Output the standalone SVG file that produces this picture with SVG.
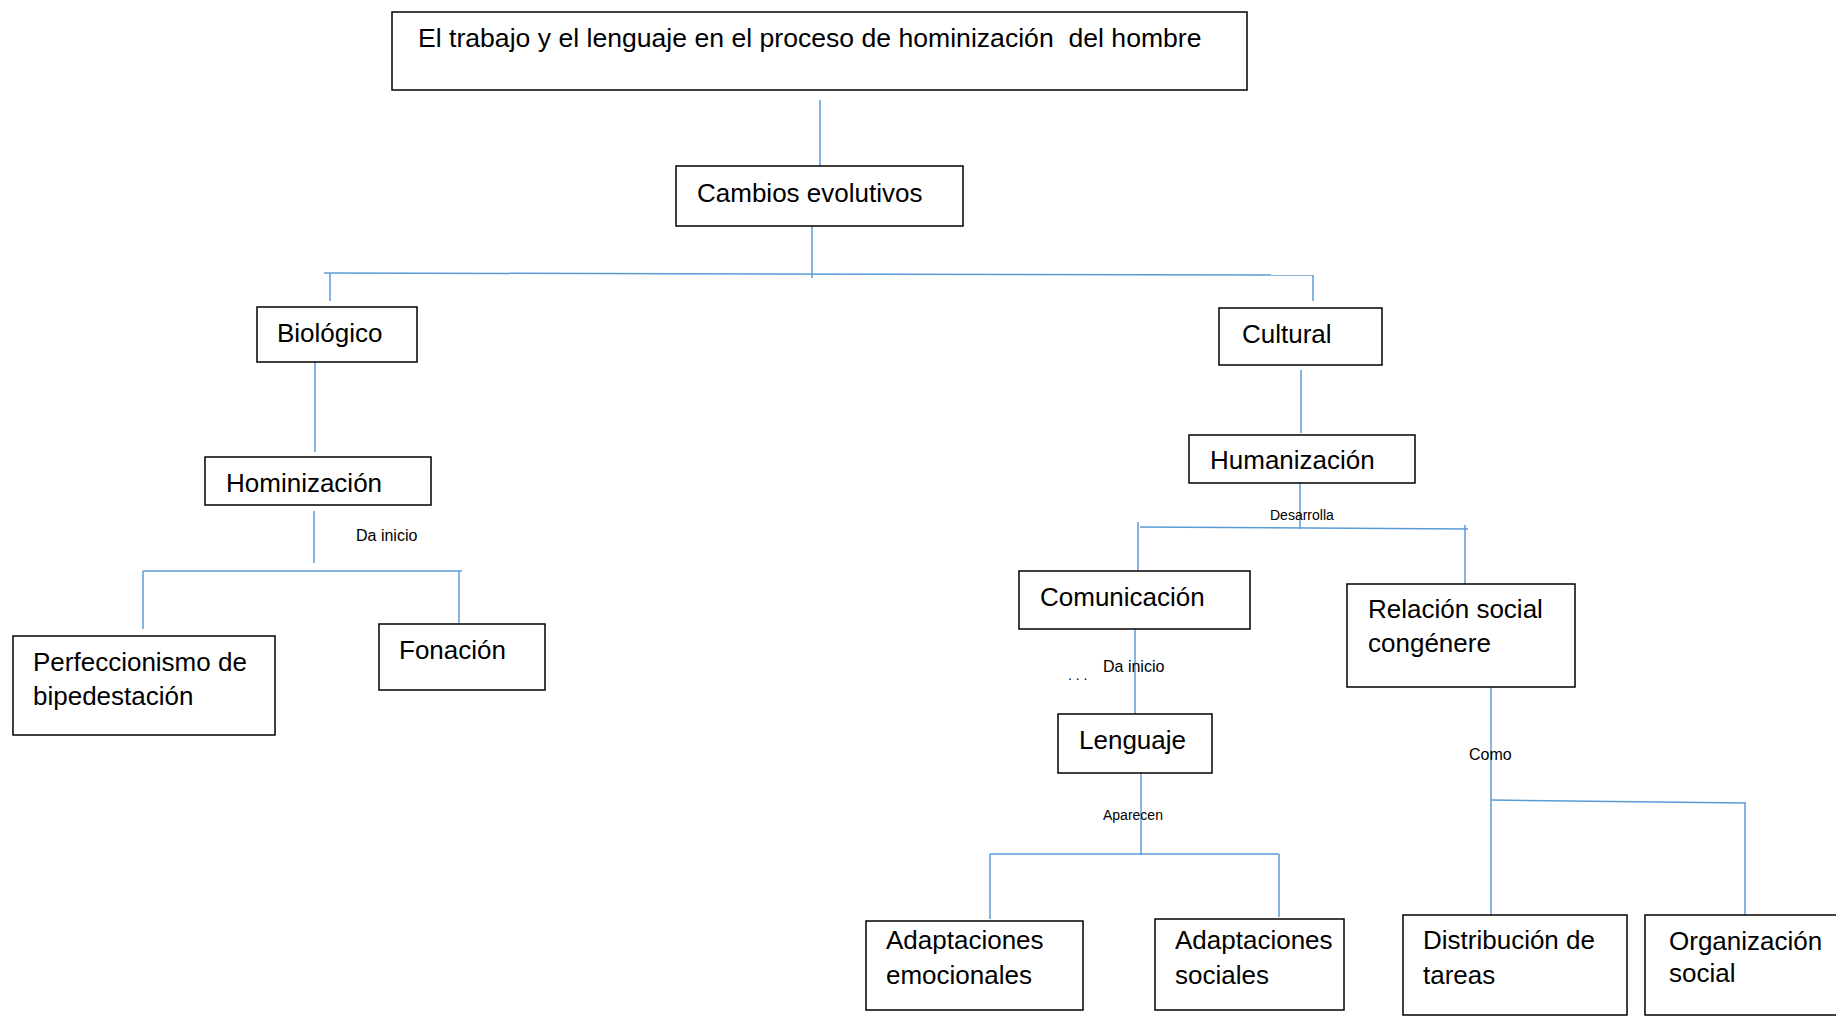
<svg xmlns="http://www.w3.org/2000/svg" width="1836" height="1016" viewBox="0 0 1836 1016">
<style>
.box{fill:#fff;stroke:#000;stroke-width:1.5}
.t{font-family:"Liberation Sans",Arial,sans-serif;font-size:26px;fill:#000}
.s{font-family:"Liberation Sans",Arial,sans-serif;font-size:16px;fill:#000}
.xs{font-family:"Liberation Sans",Arial,sans-serif;font-size:14px;fill:#000}
.c line{stroke:#5b9bd5;stroke-width:1.5;fill:none}
</style>
<rect width="1836" height="1016" fill="#fff"/>
<g class="c" id="connectors">
<line x1="820" y1="100" x2="820" y2="166"/>
<line x1="812" y1="226" x2="812" y2="278"/>
<line x1="324" y1="273" x2="1313" y2="275"/>
<line x1="330" y1="273" x2="330" y2="301"/>
<line x1="1313" y1="275" x2="1313" y2="301"/>
<line x1="315" y1="362" x2="315" y2="452"/>
<line x1="314" y1="511" x2="314" y2="563"/>
<line x1="143" y1="571" x2="462" y2="571"/>
<line x1="143" y1="571" x2="143" y2="629"/>
<line x1="459" y1="571" x2="459" y2="623"/>
<line x1="1301" y1="370" x2="1301" y2="433"/>
<line x1="1300" y1="483" x2="1300" y2="529"/>
<line x1="1140" y1="527" x2="1468" y2="529"/>
<line x1="1138" y1="522" x2="1138" y2="571"/>
<line x1="1465" y1="525" x2="1465" y2="584"/>
<line x1="1135" y1="629" x2="1135" y2="721"/>
<line x1="1141" y1="773" x2="1141" y2="855"/>
<line x1="990" y1="854" x2="1279" y2="854"/>
<line x1="990" y1="854" x2="990" y2="919"/>
<line x1="1279" y1="854" x2="1279" y2="917"/>
<line x1="1491" y1="687" x2="1491" y2="915"/>
<line x1="1491" y1="800" x2="1746" y2="803"/>
<line x1="1745" y1="803" x2="1745" y2="917"/>
</g>
<g id="labels">
<text class="s" x="356" y="541">Da inicio</text>
<text class="xs" x="1270" y="520">Desarrolla</text>
<text class="s" x="1103" y="672">Da inicio</text>
<text class="xs" x="1068" y="680">. . .</text>
<text class="xs" x="1103" y="820">Aparecen</text>
<text class="s" x="1469" y="760">Como</text>
</g>
<g id="title"><rect class="box" x="392" y="12" width="855" height="78"/><text class="t" x="418" y="47" xml:space="preserve" style="font-size:26.6px;white-space:pre">El trabajo y el lenguaje en el proceso de hominización  del hombre</text></g>
<g id="cambios"><rect class="box" x="676" y="166" width="287" height="60"/><text class="t" x="697" y="202">Cambios evolutivos</text></g>
<g id="biologico"><rect class="box" x="257" y="307" width="160" height="55"/><text class="t" x="277" y="342">Biológico</text></g>
<g id="hominizacion"><rect class="box" x="205" y="457" width="226" height="48"/><text class="t" x="226" y="492">Hominización</text></g>
<g id="perfeccionismo"><rect class="box" x="13" y="636" width="262" height="99"/><text class="t" x="33" y="671">Perfeccionismo de</text><text class="t" x="33" y="705">bipedestación</text></g>
<g id="fonacion"><rect class="box" x="379" y="624" width="166" height="66"/><text class="t" x="399" y="659">Fonación</text></g>
<g id="cultural"><rect class="box" x="1219" y="308" width="163" height="57"/><text class="t" x="1242" y="343">Cultural</text></g>
<g id="humanizacion"><rect class="box" x="1189" y="435" width="226" height="48"/><text class="t" x="1210" y="469">Humanización</text></g>
<g id="comunicacion"><rect class="box" x="1019" y="571" width="231" height="58"/><text class="t" x="1040" y="606">Comunicación</text></g>
<g id="relacion"><rect class="box" x="1347" y="584" width="228" height="103"/><text class="t" x="1368" y="618">Relación social</text><text class="t" x="1368" y="652">congénere</text></g>
<g id="lenguaje"><rect class="box" x="1058" y="714" width="154" height="59"/><text class="t" x="1079" y="749">Lenguaje</text></g>
<g id="adaptaciones-emocionales"><rect class="box" x="866" y="921" width="217" height="89"/><text class="t" x="886" y="949">Adaptaciones</text><text class="t" x="886" y="984">emocionales</text></g>
<g id="adaptaciones-sociales"><rect class="box" x="1155" y="919" width="189" height="91"/><text class="t" x="1175" y="949">Adaptaciones</text><text class="t" x="1175" y="984">sociales</text></g>
<g id="distribucion"><rect class="box" x="1403" y="915" width="224" height="100"/><text class="t" x="1423" y="949">Distribución de</text><text class="t" x="1423" y="984">tareas</text></g>
<g id="organizacion"><rect class="box" x="1645" y="915" width="200" height="100"/><text class="t" x="1669" y="950">Organización</text><text class="t" x="1669" y="982">social</text></g>
</svg>
